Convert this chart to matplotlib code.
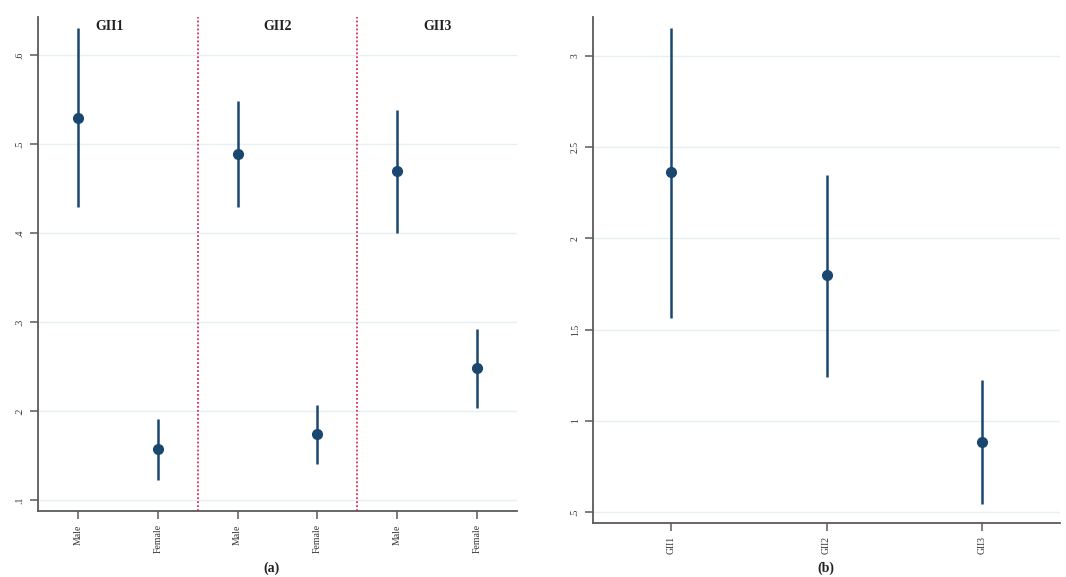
import matplotlib
matplotlib.use("Agg")
import matplotlib.pyplot as plt

# Panel (a)
groups_a = ["GII1", "GII2", "GII3"]
cats_a = ["Male", "Female", "Male", "Female", "Male", "Female"]
est_a = [0.530, 0.157, 0.489, 0.174, 0.470, 0.248]
lo_a = [0.429, 0.122, 0.429, 0.140, 0.400, 0.203]
hi_a = [0.631, 0.191, 0.548, 0.207, 0.539, 0.292]
yticks_a = [0.1, 0.2, 0.3, 0.4, 0.5, 0.6]
yticklabels_a = [".1", ".2", ".3", ".4", ".5", ".6"]

# Panel (b)
cats_b = ["GII1", "GII2", "GII3"]
est_b = [2.363, 1.797, 0.883]
lo_b = [1.564, 1.238, 0.546]
hi_b = [3.156, 2.346, 1.224]
yticks_b = [0.5, 1.0, 1.5, 2.0, 2.5, 3.0]
yticklabels_b = [".5", "1", "1.5", "2", "2.5", "3"]

navy = "#1a476f"
grid_c = "#e6eff1"
spine_c = "#5a5a5a"
serif = ["Liberation Serif", "DejaVu Serif"]

fig = plt.figure(figsize=(10.66, 5.77), dpi=100)
W, H = 1066, 577

def style(ax):
    for s in ["top", "right"]:
        ax.spines[s].set_visible(False)
    for s in ["left", "bottom"]:
        ax.spines[s].set_color(spine_c)
        ax.spines[s].set_linewidth(1.3)
    ax.tick_params(axis="both", direction="out", length=6, width=1.1, color=spine_c,
                   labelsize=7, labelcolor="#333333")
    ax.yaxis.grid(True, color=grid_c, linewidth=1.0)
    ax.set_axisbelow(True)
    for lab in ax.get_yticklabels() + ax.get_xticklabels():
        lab.set_family(serif)

# Left axes
axa = fig.add_axes([38 / W, 1 - 511 / H, (517 - 38) / W, (511 - 17) / H])
xa = list(range(1, len(cats_a) + 1))
axa.vlines(xa, lo_a, hi_a, color=navy, linewidth=1.8, zorder=3)
axa.plot(xa, est_a, "o", color=navy, markersize=7, zorder=4, linestyle="none")
axa.set_xlim(0.5, 6.5)
axa.set_ylim(0.0876, 0.643)
axa.set_yticks(yticks_a)
axa.set_yticklabels(yticklabels_a, rotation=90, va="center")
axa.set_xticks(xa)
axa.set_xticklabels(cats_a, rotation=90)
for xd in [2.5, 4.5]:
    axa.axvline(xd, color="#d62f50", linestyle=(0, (1, 1.2)), linewidth=1.3, zorder=2)
title_x = [1.4, 3.5, 5.5]
for tx, g in zip(title_x, groups_a):
    axa.text(tx, 0.632, g, ha="center", va="center", fontsize=10, fontweight="bold",
             family=serif, color="#222222")
style(axa)

# Right axes
axb = fig.add_axes([593 / W, 1 - 522.7 / H, (1060 - 593) / W, (522.7 - 17) / H])
xb = list(range(1, len(cats_b) + 1))
axb.vlines(xb, lo_b, hi_b, color=navy, linewidth=1.8, zorder=3)
axb.plot(xb, est_b, "o", color=navy, markersize=7, zorder=4, linestyle="none")
axb.set_xlim(0.5, 3.5)
axb.set_ylim(0.441, 3.214)
axb.set_yticks(yticks_b)
axb.set_yticklabels(yticklabels_b, rotation=90, va="center")
axb.set_xticks(xb)
axb.set_xticklabels(cats_b, rotation=90)
style(axb)

fig.text(272 / W, 1 - 568 / H, "(a)", ha="center", va="center", fontsize=10,
         fontweight="bold", family=serif, color="#222222")
fig.text(826 / W, 1 - 568 / H, "(b)", ha="center", va="center", fontsize=10,
         fontweight="bold", family=serif, color="#222222")

fig.savefig("out.png", dpi=100, facecolor="white")
